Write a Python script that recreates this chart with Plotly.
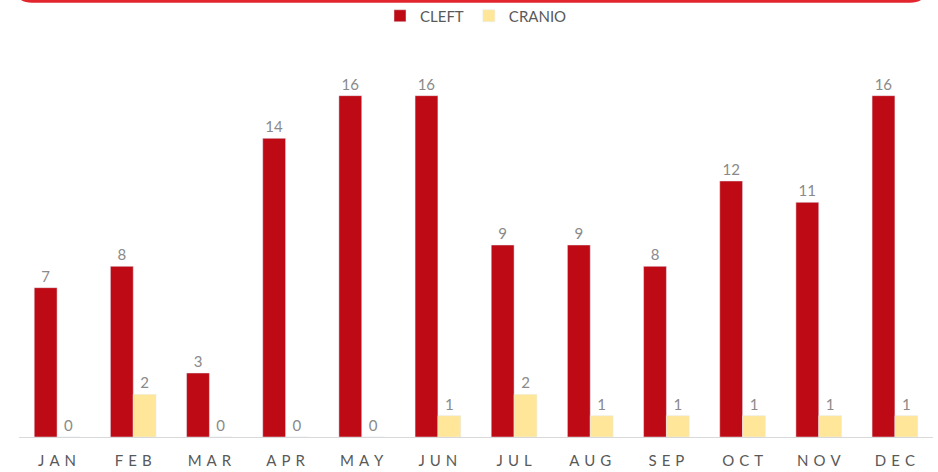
import plotly.graph_objects as go

months = ["JAN", "FEB", "MAR", "APR", "MAY", "JUN", "JUL", "AUG", "SEP", "OCT", "NOV", "DEC"]
tick_labels = ["\u2004".join(m) for m in months]
cleft = [7, 8, 3, 14, 16, 16, 9, 9, 8, 12, 11, 16]
cranio = [0, 2, 0, 0, 0, 1, 2, 1, 1, 1, 1, 1]

W, H = 938, 472
L, R, T, B = 19, 5, 53, 35
pw, ph = W - L - R, H - T - B

def px(x):
    return (x - L) / pw

def py(y):
    return (H - B - y) / ph

FONT = "Lato, Liberation Sans, sans-serif"
GRAY = "#8a8a8a"

fig = go.Figure()
fig.add_trace(go.Bar(name="CLEFT", x=months, y=cleft, marker_color="#BE0A14",
                     text=cleft, textposition="outside", cliponaxis=False,
                     textfont=dict(size=15, color=GRAY, family=FONT)))
fig.add_trace(go.Bar(name="CRANIO", x=months, y=cranio, marker_color="#FFE699",
                     text=cranio, textposition="outside", cliponaxis=False,
                     textfont=dict(size=15, color=GRAY, family=FONT)))

# red rounded frame partially visible at top
x0, x1, yb, ytop, r = px(16), px(926), py(1.2), py(-30), 16
rx, ry = r / pw, r / ph
path = (f"M {x0} {ytop} L {x0} {yb + ry} Q {x0} {yb} {x0 + rx} {yb} "
        f"L {x1 - rx} {yb} Q {x1} {yb} {x1} {yb + ry} L {x1} {ytop}")
fig.add_shape(type="path", path=path, xref="paper", yref="paper",
              line=dict(color="#E3262E", width=3))

fig.update_layout(
    width=W, height=H,
    margin=dict(l=L, r=R, t=T, b=B, autoexpand=False),
    paper_bgcolor="white", plot_bgcolor="white",
    barmode="group", bargap=0.4, bargroupgap=0,
    showlegend=True,
    legend=dict(orientation="h", x=0.5, xanchor="center",
                yref="container", y=1 - 16 / H, yanchor="middle",
                bgcolor="rgba(0,0,0,0)",
                font=dict(size=15, color="#595959", family=FONT),
                itemwidth=30, traceorder="normal"),
    font=dict(family=FONT, color=GRAY),
    xaxis=dict(tickmode="array", tickvals=months, ticktext=tick_labels,
               tickfont=dict(size=15, color="#595959", family=FONT),
               ticklabelstandoff=10,
               showline=True, linecolor="#d9d9d9", linewidth=1, ticks="",
               showgrid=False, automargin=False),
    yaxis=dict(range=[0, 18], visible=False, showgrid=False, automargin=False),
)

fig.write_html("out.html", config={"displayModeBar": False},
               post_script="document.body.style.margin='0';")
